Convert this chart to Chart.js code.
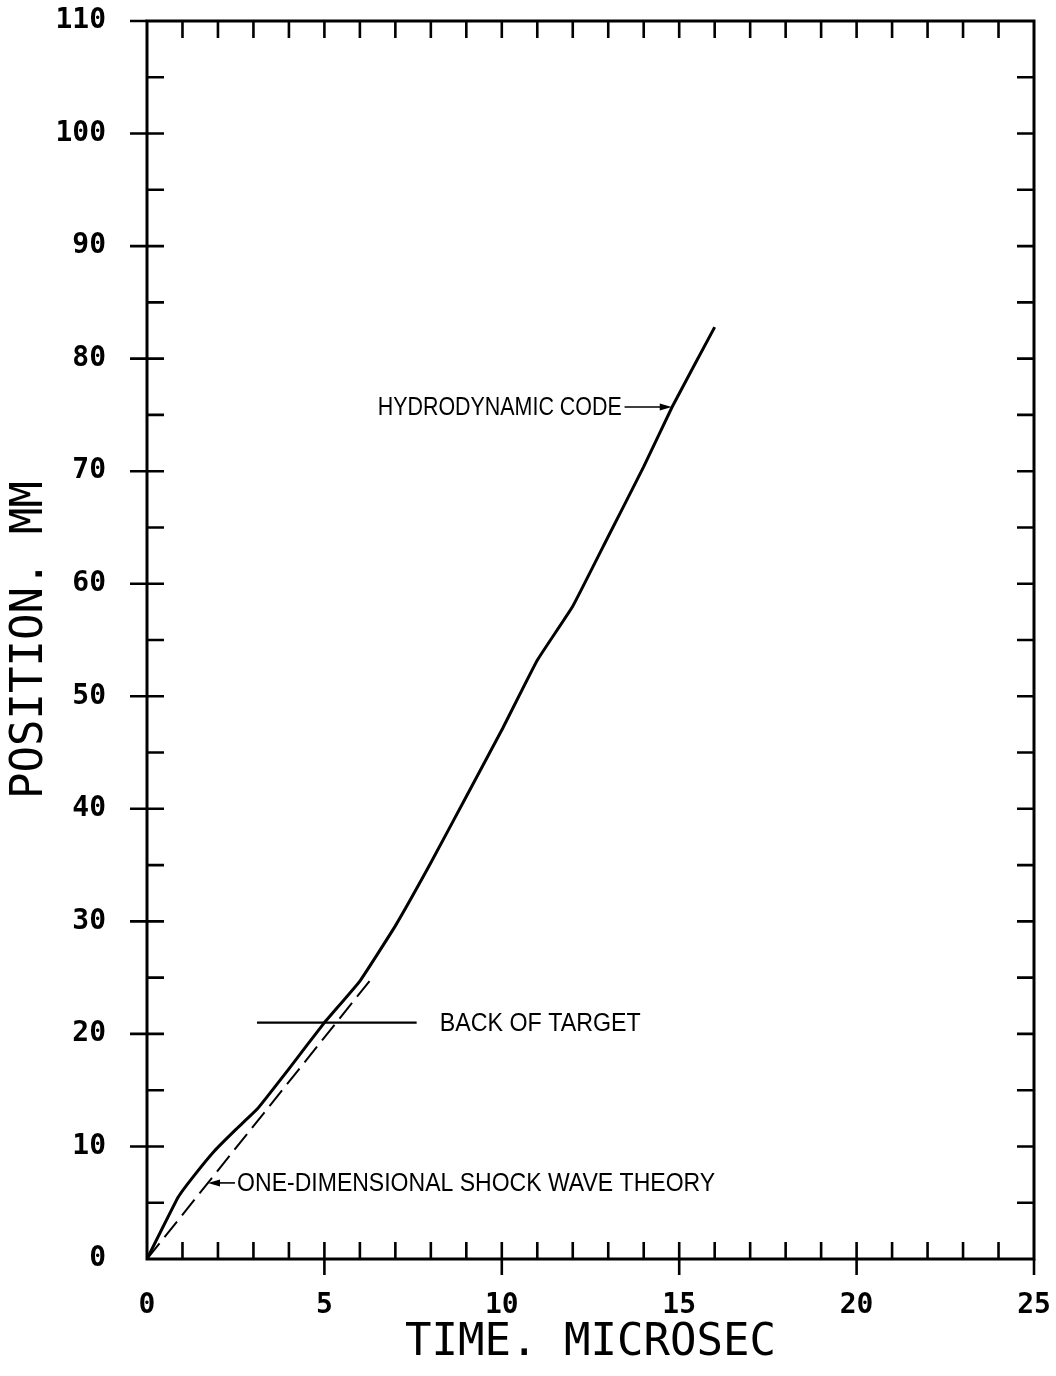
<!DOCTYPE html>
<html><head><meta charset="utf-8">
<script src="https://cdn.jsdelivr.net/npm/chart.js@4/dist/chart.umd.min.js"></script>
<style>html,body{margin:0;padding:0;background:#fff;}canvas{display:block;}</style>
</head><body>
<canvas id="c" width="1056" height="1376"></canvas>
<script>
// ---- data ----
const hydroTime = [0, 0.88, 1.3, 1.9, 2.5, 3.1, 4.0, 5.0, 6.0, 7.0, 8.0, 9.0, 10.0, 11.0, 12.0, 13.0, 14.0, 14.8, 16.0];
const hydroPos  = [0, 5.5, 7.3, 9.6, 11.5, 13.3, 16.9, 21.0, 24.7, 29.6, 35.2, 41.1, 47.0, 53.2, 58.0, 64.2, 70.4, 75.7, 82.8];
const shockTime = [0, 6.3];
const shockPos  = [0, 24.8];
const targetTime = [3.1, 7.6];
const targetPos  = [21, 21];
const xLabelValues = [0, 5, 10, 15, 20, 25];
const yLabelValues = [0, 10, 20, 30, 40, 50, 60, 70, 80, 90, 100, 110];
const xTitle = 'TIME. MICROSEC';
const yTitle = 'POSITION. MM';
const noteTexts = ['HYDRODYNAMIC CODE', 'BACK OF TARGET', 'ONE-DIMENSIONAL SHOCK WAVE THEORY'];

function pts(xs, ys){ return xs.map((x,i)=>({x:x, y:ys[i]})); }

// annotation layout (data units)
const notes = [
  {text: noteTexts[0], x: 13.38, y: 75.7, align: 'right', width: 244, arrowFrom: 13.46, arrowTo: 14.79},
  {text: noteTexts[1], x: 8.25, y: 21, align: 'left', width: 201},
  {text: noteTexts[2], x: 2.54, y: 6.76, align: 'left', width: 478, arrowFrom: 2.48, arrowTo: 1.72}
];

const TICK = 17;
const framePlugin = {
  id: 'frame',
  afterDraw(chart){
    const ctx = chart.ctx, a = chart.chartArea, xs = chart.scales.x, ys = chart.scales.y;
    ctx.save();
    ctx.strokeStyle = '#000';
    ctx.lineCap = 'butt';
    ctx.lineWidth = 3;
    ctx.strokeRect(a.left, a.top, a.right - a.left, a.bottom - a.top);
    ctx.lineWidth = 2.6;
    ctx.beginPath();
    xs.ticks.forEach(t => {
      const v = t.value, px = xs.getPixelForValue(v);
      if (v > 0 && v < 25) {
        ctx.moveTo(px, a.top); ctx.lineTo(px, a.top + TICK);
        ctx.moveTo(px, a.bottom); ctx.lineTo(px, a.bottom - TICK);
      }
      if (v > 0 && v % 5 === 0) { ctx.moveTo(px, a.bottom); ctx.lineTo(px, a.bottom + 16); }
    });
    ys.ticks.forEach(t => {
      const v = t.value, py = ys.getPixelForValue(v);
      if (v > 0 && v < 110) {
        ctx.moveTo(a.left, py); ctx.lineTo(a.left + TICK, py);
        ctx.moveTo(a.right, py); ctx.lineTo(a.right - TICK, py);
      }
      if (v > 0 && v % 10 === 0) { ctx.moveTo(a.left, py); ctx.lineTo(a.left - 17, py); }
    });
    ctx.stroke();

    // annotations
    ctx.fillStyle = '#000';
    ctx.font = '26px "Liberation Sans Narrow", "Liberation Sans", Arial, sans-serif';
    ctx.textBaseline = 'middle';
    notes.forEach(n => {
      const px = xs.getPixelForValue(n.x), py = ys.getPixelForValue(n.y);
      ctx.textAlign = n.align;
      ctx.fillText(n.text, px, py + 1, n.width);
      if (n.arrowFrom !== undefined) {
        const x1 = xs.getPixelForValue(n.arrowFrom), x2 = xs.getPixelForValue(n.arrowTo);
        const dir = Math.sign(x2 - x1);
        ctx.lineWidth = 1.6;
        ctx.beginPath(); ctx.moveTo(x1, py); ctx.lineTo(x2 - dir * 8, py); ctx.stroke();
        ctx.beginPath();
        ctx.moveTo(x2, py); ctx.lineTo(x2 - dir * 12, py - 3.5); ctx.lineTo(x2 - dir * 12, py + 3.5);
        ctx.closePath(); ctx.fill();
      }
    });
    ctx.restore();
  }
};

const tickFont = {family: '"DejaVu Sans Mono", monospace', size: 28, weight: 'bold'};
const titleFont = {family: '"DejaVu Sans Mono", monospace', size: 44, weight: 'normal'};

new Chart(document.getElementById('c'), {
  type: 'scatter',
  data: {
    datasets: [
      {data: pts(hydroTime, hydroPos), showLine: true, borderColor: '#000', borderWidth: 3, pointRadius: 0, tension: 0.1, fill: false},
      {data: pts(shockTime, shockPos), showLine: true, borderColor: '#000', borderWidth: 2, borderDash: [20, 8], pointRadius: 0, fill: false},
      {data: pts(targetTime, targetPos), showLine: true, borderColor: '#000', borderWidth: 2.4, pointRadius: 0, fill: false}
    ]
  },
  options: {
    responsive: false,
    animation: false,
    devicePixelRatio: 1,
    layout: {padding: {left: 0, top: 21, right: 22, bottom: 0}},
    plugins: {legend: {display: false}, tooltip: {enabled: false}},
    scales: {
      x: {
        type: 'linear', min: 0, max: 25,
        grid: {display: false}, border: {display: false},
        ticks: {
          stepSize: 1, autoSkip: false, maxRotation: 0, padding: 22, color: '#000', font: tickFont,
          callback: v => xLabelValues.includes(v) ? String(v) : ''
        },
        title: {display: true, text: xTitle, color: '#000', font: titleFont, padding: {top: 0, bottom: 6}},
        afterFit: s => { s.height = 117; s.paddingLeft = 0; s.paddingRight = 0; }
      },
      y: {
        type: 'linear', min: 0, max: 110,
        grid: {display: false}, border: {display: false},
        ticks: {
          stepSize: 5, autoSkip: false, padding: 33, color: '#000', font: tickFont,
          callback: v => yLabelValues.includes(v) ? String(v) : ''
        },
        title: {display: true, text: yTitle, color: '#000', font: titleFont, padding: {top: 4, bottom: 0}},
        afterFit: s => { s.width = 147; s.paddingTop = 0; s.paddingBottom = 0; }
      }
    }
  },
  plugins: [framePlugin]
});
</script>
</body></html>
